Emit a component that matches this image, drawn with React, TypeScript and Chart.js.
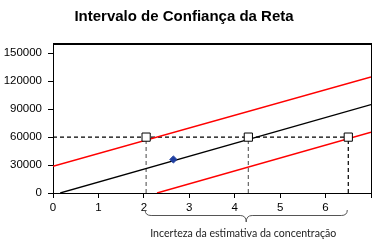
import React, { useEffect, useRef } from "react";
import { Chart, registerables } from "chart.js";

Chart.register(...registerables);

const TITLE = "Intervalo de Confiança da Reta";
const NOTE = "Incerteza da estimativa da concentração";
const xTicks = [0, 1, 2, 3, 4, 5, 6, 7];
const yTicks = [0, 30000, 60000, 90000, 120000, 150000];

const upperX = [0, 7];
const upperY = [28700, 124700];
const centerX = [0.16, 7];
const centerY = [0, 95000];
const lowerX = [2.29, 7];
const lowerY = [0, 65300];

const level = 60000;
const crossX = [2.05, 4.3, 6.5];
const sampleX = [2.65];
const sampleY = [36000];

const pts = (xs: number[], ys: number[]) => xs.map((x, i) => ({ x, y: ys[i] }));

const overlay = {
  id: "overlay",
  afterDraw(chart: any) {
    const { ctx, chartArea, scales } = chart;
    const { left, right, top, bottom } = chartArea;
    ctx.save();
    ctx.strokeStyle = "#000";
    ctx.lineWidth = 2;
    ctx.beginPath();
    ctx.moveTo(left, top);
    ctx.lineTo(right + 1, top);
    ctx.stroke();
    ctx.lineWidth = 1;
    ctx.beginPath();
    ctx.moveTo(right + 0.5, top);
    ctx.lineTo(right + 0.5, bottom);
    ctx.stroke();
    ctx.fillStyle = "#000";
    ctx.font = "bold 15px 'Liberation Sans', Arial, sans-serif";
    ctx.textAlign = "center";
    ctx.textBaseline = "middle";
    ctx.fillText(TITLE, 184, 17);
    const x1 = scales.x.getPixelForValue(crossX[0]) - 1;
    const x2 = scales.x.getPixelForValue(crossX[crossX.length - 1]) - 1;
    const xm = (x1 + x2) / 2;
    const y0 = 210, y1 = 215.5, y2 = 222;
    ctx.strokeStyle = "#555";
    ctx.lineWidth = 1;
    ctx.beginPath();
    ctx.moveTo(x1, y0);
    ctx.quadraticCurveTo(x1, y1, x1 + 6, y1);
    ctx.lineTo(xm - 6, y1);
    ctx.quadraticCurveTo(xm, y1, xm, y2);
    ctx.quadraticCurveTo(xm, y1, xm + 6, y1);
    ctx.lineTo(x2 - 6, y1);
    ctx.quadraticCurveTo(x2, y1, x2, y0);
    ctx.stroke();
    ctx.fillStyle = "#222";
    ctx.font = "10.6px Lato, 'Open Sans', sans-serif";
    ctx.fillText(NOTE, xm - 3, 234);
    ctx.restore();
  },
};

export default function App() {
  const ref = useRef<HTMLCanvasElement | null>(null);
  useEffect(() => {
    document.body.style.margin = "0";
    const vlines = crossX.map((x, i) => ({
      data: [{ x, y: 0 }, { x, y: level }],
      showLine: true,
      borderColor: i === crossX.length - 1 ? "#000" : "#666",
      borderWidth: 1.2,
      borderDash: [4, 3],
      pointRadius: 0,
    }));
    const chart = new Chart(ref.current as HTMLCanvasElement, {
      type: "scatter",
      data: {
        datasets: [
          {
            data: pts(sampleX, sampleY),
            showLine: false,
            pointStyle: "rectRot",
            pointRadius: 3.6,
            pointBackgroundColor: "#1f3fa0",
            pointBorderColor: "#1f3fa0",
            pointBorderWidth: 1,
          },
          {
            data: crossX.map((x) => ({ x, y: level })),
            showLine: false,
            pointStyle: "rect",
            pointRadius: 5.8,
            pointBackgroundColor: "#fff",
            pointBorderColor: "#000",
            pointBorderWidth: 1,
          },
          { data: pts(upperX, upperY), showLine: true, borderColor: "#ff0000", borderWidth: 1.5, pointRadius: 0 },
          { data: pts(centerX, centerY), showLine: true, borderColor: "#000", borderWidth: 1.3, pointRadius: 0 },
          { data: pts(lowerX, lowerY), showLine: true, borderColor: "#ff0000", borderWidth: 1.5, pointRadius: 0 },
          {
            data: [{ x: 0, y: level }, { x: crossX[crossX.length - 1], y: level }],
            showLine: true,
            borderColor: "#000",
            borderWidth: 1.2,
            borderDash: [4, 3],
            pointRadius: 0,
          },
          ...vlines,
        ],
      },
      options: {
        animation: false,
        responsive: false,
        devicePixelRatio: 1,
        layout: { padding: { top: 44, right: 7, left: 0, bottom: 0 } },
        plugins: { legend: { display: false }, title: { display: false }, tooltip: { enabled: false } },
        scales: {
          x: {
            type: "linear",
            min: 0,
            max: 7,
            afterBuildTicks: (s: any) => { s.ticks = xTicks.map((v) => ({ value: v })); },
            afterFit: (s: any) => { s.height = 55; },
            ticks: {
              callback: (v: any) => (v === 7 ? "" : String(v)),
              color: "#000",
              font: { family: "'Liberation Sans', Arial, sans-serif", size: 11.5 },
              padding: 3,
              maxRotation: 0,
            },
            grid: { drawOnChartArea: false, drawTicks: true, tickLength: 5, color: "#000" },
            border: { color: "#000", width: 1 },
          },
          y: {
            type: "linear",
            min: 0,
            max: 160000,
            afterBuildTicks: (s: any) => { s.ticks = yTicks.map((v) => ({ value: v })); },
            afterFit: (s: any) => { s.width = 53; },
            ticks: {
              callback: (v: any) => String(v),
              color: "#000",
              font: { family: "'Liberation Sans', Arial, sans-serif", size: 11.5 },
              padding: 6,
            },
            grid: { drawOnChartArea: false, drawTicks: true, tickLength: 5, color: "#000" },
            border: { color: "#000", width: 1 },
          },
        },
      },
      plugins: [overlay],
    });
    return () => chart.destroy();
  }, []);
  return (
    <div style={{ position: "absolute", left: 0, top: 0, width: 378, height: 248, background: "#fff" }}>
      <canvas ref={ref} width={378} height={248} />
    </div>
  );
}
